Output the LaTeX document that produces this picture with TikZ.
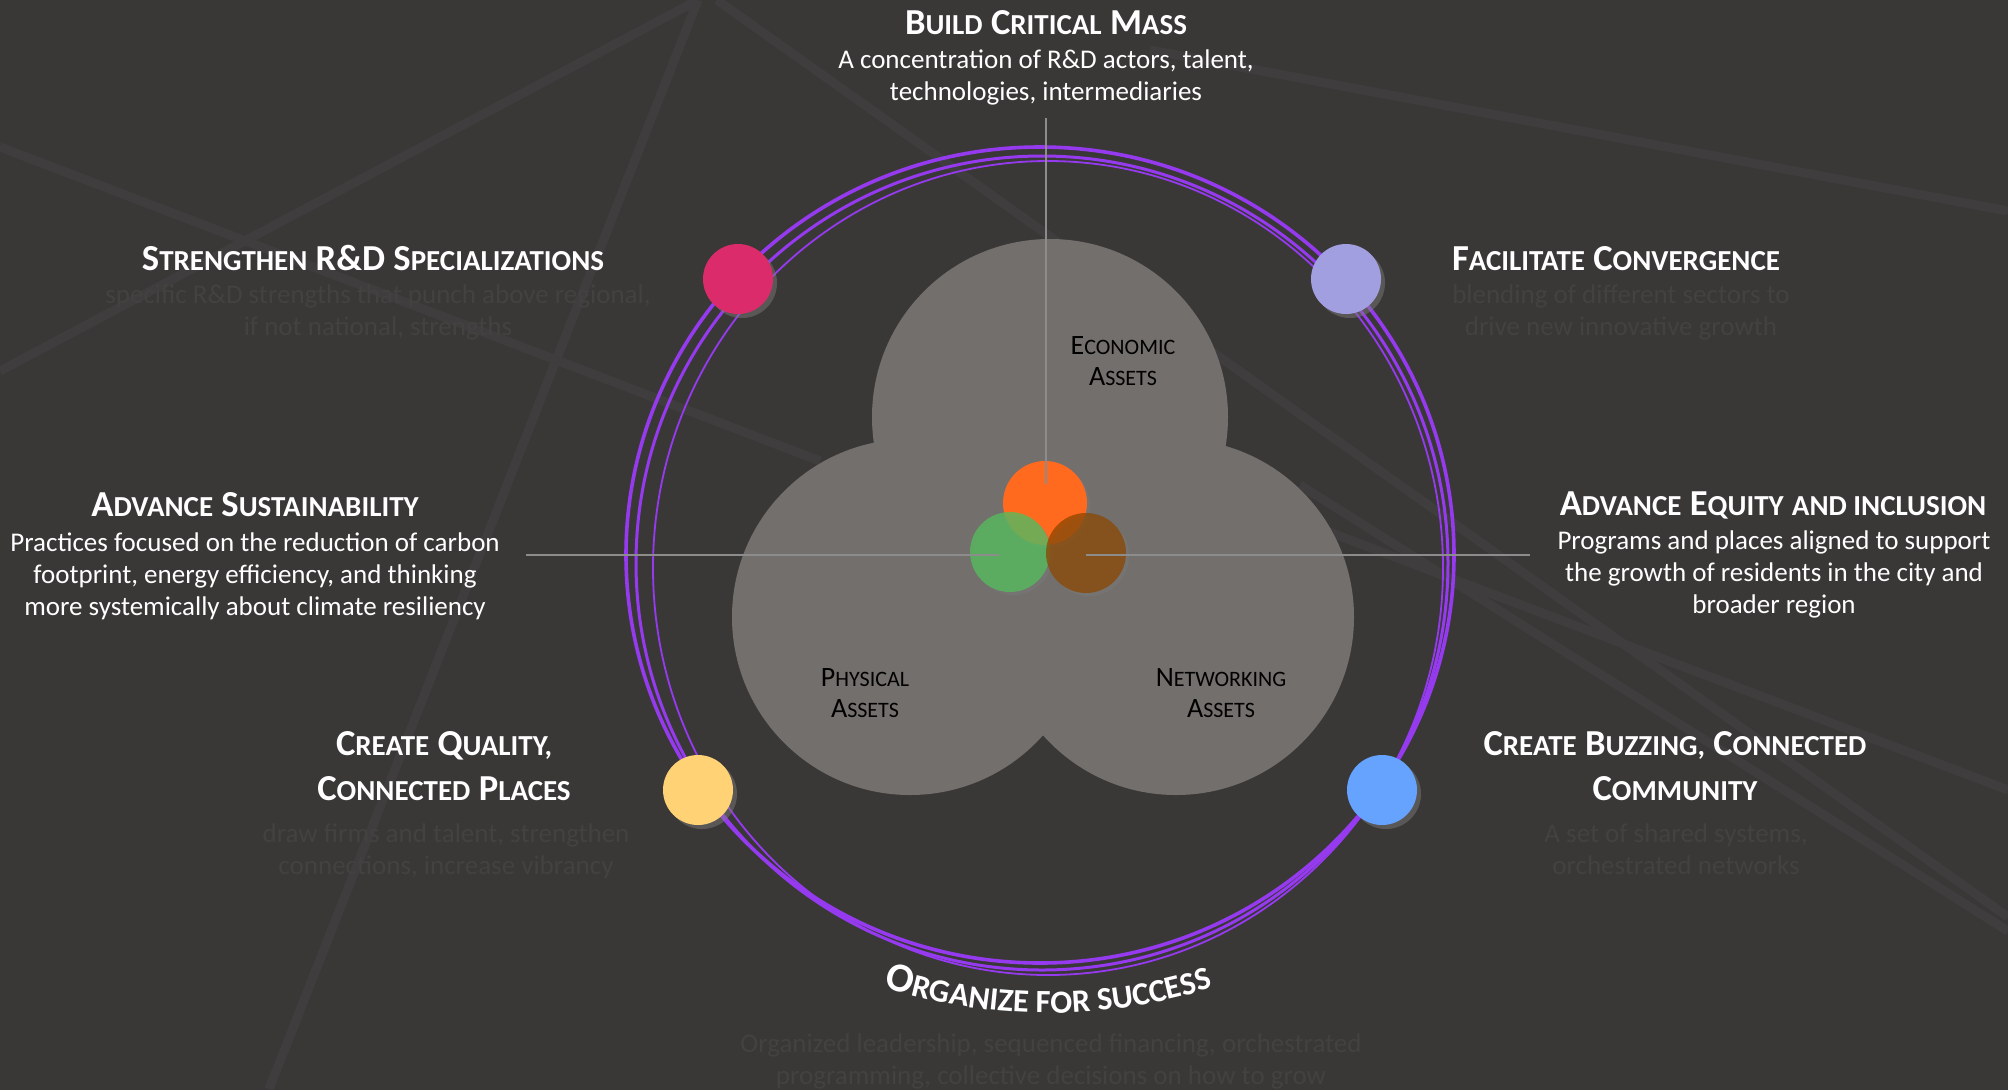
\documentclass[tikz,border=0pt]{standalone}
\usepackage{fontspec}
\setmainfont{Carlito}
\usepackage{xcolor}
\usepackage{tikz}
\usetikzlibrary{shadows,decorations.text}
\definecolor{bgdark}{RGB}{58,56,55}
\definecolor{streak}{RGB}{63,61,62}
\definecolor{faint}{RGB}{68,66,65}
\definecolor{ringviolet}{RGB}{150,58,240}
\definecolor{blobgray}{RGB}{115,111,109}
\definecolor{axisgray}{RGB}{140,140,140}
\definecolor{mydotred}{RGB}{219,43,106}
\definecolor{mydotlilac}{RGB}{162,159,224}
\definecolor{mydotyellow}{RGB}{255,210,117}
\definecolor{mydotblue}{RGB}{102,163,255}
\definecolor{myorange}{RGB}{255,106,31}
\definecolor{mygreen}{RGB}{83,190,92}
\definecolor{mybrown}{RGB}{139,70,0}
\newcommand\hcap[2]{{\fontsize{18.3}{22.5}\selectfont #1}{\fontsize{14.5}{22.5}\selectfont #2}}
\newcommand\hsm[1]{{\fontsize{14.5}{22.5}\selectfont #1}}
\newcommand\lcap[2]{{\fontsize{14}{15.5}\selectfont #1}{\fontsize{11}{15.5}\selectfont #2}}
\tikzstyle{headline} = [text=white,font=\bfseries\fontsize{18.3}{22.5}\selectfont,inner sep=0pt,anchor=base,align=center]
\tikzstyle{desc} = [text=white,font=\fontsize{13.5}{16}\selectfont,inner sep=0pt,anchor=north,align=center]
\tikzstyle{ghost} = [desc,text=faint]
\tikzstyle{colordot} = [circle,minimum size=35pt,inner sep=0pt,drop shadow={shadow xshift=2pt,shadow yshift=-2pt,opacity=0.45}]
\tikzstyle{ball} = [circle,inner sep=0pt,drop shadow={shadow xshift=1.5pt,shadow yshift=-1.5pt,opacity=0.3}]
\tikzstyle{asset} = [text=black,font=\fontsize{14}{15.5}\selectfont,inner sep=0pt,anchor=north,align=center]
\tikzstyle{axisline} = [color=axisgray,line width=0.65pt]

\begin{document}
\begin{tikzpicture}[x=0.5pt,y=-0.5pt]
  % backdrop
  \useasboundingbox (0,0) rectangle (2008,1089);
  \fill[bgdark] (-10,-10) rectangle (2018,1099);
  \draw[streak,line width=4.5pt] (0,147) -- (820,461);
  \draw[streak,line width=4.5pt] (0,371) -- (698,0);
  \draw[streak,line width=4.5pt] (698,0) -- (269,1089);
  \draw[streak,line width=4.5pt] (717,0) -- (2008,917);
  \draw[streak,line width=4.5pt] (1100,445) -- (2008,790);
  \draw[streak,line width=4.5pt] (1300,485) -- (2008,931);
  \draw[streak,line width=4.5pt] (1150,50) -- (2008,211);

  % ring
  \draw[ringviolet,line width=1.8pt] (1040,555) ellipse [x radius=414,y radius=408];
  \draw[ringviolet,line width=1.5pt] (1042,563) ellipse [x radius=406,y radius=407];
  \draw[ringviolet,line width=0.9pt] (1048,568) ellipse [x radius=395,y radius=407];

  % assets
  \fill[blobgray] (1050,417) circle [radius=178] (910,617) circle [radius=178] (1176,617) circle [radius=178];
  \node[asset] (econlabel) at (1123,336) {\lcap{E}{CONOMIC}\\\lcap{A}{SSETS}};
  \node[asset] (physlabel) at (865,668) {\lcap{P}{HYSICAL}\\\lcap{A}{SSETS}};
  \node[asset] (netlabel) at (1221,668) {\lcap{N}{ETWORKING}\\\lcap{A}{SSETS}};
  \node[ball,fill=myorange,minimum size=42pt] (econball) at (1045,503) {};
  \node[ball,fill=mygreen,fill opacity=0.75,minimum size=40pt] (physball) at (1010,552) {};
  \node[ball,fill=mybrown,fill opacity=0.75,minimum size=40pt] (netball) at (1086,553) {};

  % dots on the ring
  \node[colordot,fill=mydotred] (specdot) at (738,279) {};
  \node[colordot,fill=mydotlilac] (convdot) at (1346,279) {};
  \node[colordot,fill=mydotyellow] (placesdot) at (698,790) {};
  \node[colordot,fill=mydotblue] (communitydot) at (1382,790) {};

  % axes
  \coordinate (northend) at (1046,118);
  \coordinate (westend) at (526,555);
  \coordinate (eastend) at (1530,555);
  \draw[axisline,shorten >=9.5pt] (northend) -- (northend |- econball);
  \draw[axisline,shorten >=5.5pt] (westend) -- (westend -| physball);
  \draw[axisline] (eastend -| netball) -- (eastend);

  % labels
  \node[headline] (mass) at (1046,34) {\hcap{B}{UILD} \hcap{C}{RITICAL} \hcap{M}{ASS}};
  \node[desc] (massdesc) at (1046,49) {A concentration of R\&D actors, talent,\\technologies, intermediaries};
  \node[headline] (spec) at (373,270) {\hcap{S}{TRENGTHEN} R\&D \hcap{S}{PECIALIZATIONS}};
  \node[ghost] (specdesc) at (378,284) {specific R\&D strengths that punch above regional,\\if not national, strengths};
  \node[headline] (conv) at (1616,270) {\hcap{F}{ACILITATE} \hcap{C}{ONVERGENCE}};
  \node[ghost] (convdesc) at (1621,284) {blending of different sectors to\\drive new innovative growth};
  \node[headline] (sust) at (255,516) {\hcap{A}{DVANCE} \hcap{S}{USTAINABILITY}};
  \node[desc] (sustdesc) at (255,532) {Practices focused on the reduction of carbon\\footprint, energy efficiency, and thinking\\more systemically about climate resiliency};
  \node[headline] (equity) at (1773,515) {\hcap{A}{DVANCE} \hcap{E}{QUITY} \hsm{AND INCLUSION}};
  \node[desc] (equitydesc) at (1774,530) {Programs and places aligned to support\\the growth of residents in the city and\\broader region};
  \node[headline,anchor=north] (places) at (444,731) {\hcap{C}{REATE} \hcap{Q}{UALITY,}\\\hcap{C}{ONNECTED} \hcap{P}{LACES}};
  \node[ghost] (placesdesc) at (446,823) {draw firms and talent, strengthen\\connections, increase vibrancy};
  \node[headline,anchor=north] (community) at (1675,731) {\hcap{C}{REATE} \hcap{B}{UZZING,} \hcap{C}{ONNECTED}\\\hcap{C}{OMMUNITY}};
  \node[ghost] (communitydesc) at (1676,823) {A set of shared systems,\\orchestrated networks};
  \path[decorate,decoration={text along path,text align=center,text color=white,
    text={|\bfseries\fontsize{20.5}{24}\selectfont|O|\bfseries\fontsize{16.2}{24}\selectfont|RGANIZE FOR SUCCESS}}]
    (1048,468) ++(117:545) arc[start angle=117,end angle=63,radius=545];
  \node[ghost] (organizedesc) at (1051,1033) {Organized leadership, sequenced financing, orchestrated\\programming, collective decisions on how to grow};
\end{tikzpicture}
\end{document}
